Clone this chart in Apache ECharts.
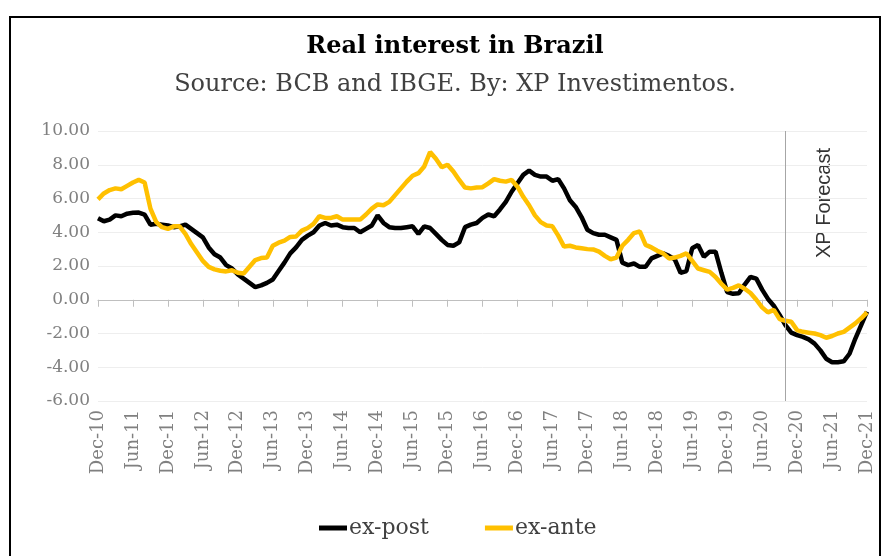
<!DOCTYPE html>
<html><head><meta charset="utf-8">
<script src="https://cdn.jsdelivr.net/npm/echarts@6/dist/echarts.min.js"></script>
<style>html,body{margin:0;padding:0;background:#fff}#c{width:886px;height:556px}</style>
</head><body><div id="c"></div>
<script>
const monthNames = ['Jan','Feb','Mar','Apr','May','Jun','Jul','Aug','Sep','Oct','Nov','Dec'];
const categories = [];
for (let i = 0; i < 133; i++) {
  const t = 11 + i;
  const yy = 10 + Math.floor(t / 12);
  categories.push(monthNames[t % 12] + '-' + String(yy).padStart(2, '0'));
}
const exPost = [
  4.83,4.65,4.75,5.00,4.95,5.10,5.15,5.17,5.05,4.45,4.50,4.45,
  4.40,4.30,4.35,4.45,4.20,3.95,3.70,3.10,2.70,2.50,2.05,1.85,
  1.50,1.25,1.00,0.75,0.85,1.00,1.20,1.70,2.20,2.75,3.10,3.55,
  3.80,4.00,4.40,4.55,4.40,4.45,4.30,4.25,4.25,4.00,4.20,4.40,
  5.00,4.55,4.30,4.25,4.25,4.30,4.35,3.90,4.35,4.25,3.90,3.55,
  3.25,3.20,3.40,4.30,4.45,4.55,4.85,5.05,4.95,5.35,5.80,6.40,
  6.90,7.40,7.65,7.40,7.30,7.30,7.05,7.15,6.60,5.90,5.50,4.90,
  4.15,3.95,3.85,3.85,3.70,3.55,2.20,2.05,2.15,1.95,1.95,2.45,
  2.60,2.75,2.60,2.40,1.60,1.70,3.05,3.25,2.55,2.85,2.85,1.60,
  0.45,0.35,0.38,0.90,1.35,1.25,0.60,0.05,-0.35,-0.90,-1.50,-1.95,
  -2.10,-2.20,-2.35,-2.60,-3.00,-3.50,-3.70,-3.70,-3.65,-3.20,-2.30,-1.50,
  -0.70
];
const exAnte = [
  5.95,6.30,6.50,6.60,6.55,6.75,6.95,7.10,6.95,5.40,4.60,4.30,
  4.20,4.35,4.35,3.90,3.30,2.80,2.30,1.95,1.80,1.72,1.68,1.75,
  1.60,1.55,1.95,2.35,2.47,2.50,3.20,3.38,3.50,3.72,3.75,4.10,
  4.25,4.50,4.95,4.85,4.85,4.95,4.75,4.75,4.75,4.75,5.05,5.40,
  5.65,5.60,5.80,6.20,6.60,7.00,7.35,7.50,7.90,8.75,8.35,7.85,
  8.00,7.60,7.10,6.65,6.60,6.65,6.67,6.90,7.15,7.05,7.00,7.10,
  6.70,6.10,5.60,5.00,4.60,4.40,4.35,3.80,3.15,3.20,3.10,3.05,
  3.00,2.98,2.85,2.60,2.40,2.50,3.20,3.55,3.95,4.05,3.25,3.10,
  2.90,2.75,2.45,2.50,2.60,2.75,2.30,1.85,1.75,1.65,1.35,0.95,
  0.60,0.70,0.85,0.65,0.40,0.00,-0.45,-0.75,-0.60,-1.15,-1.25,-1.30,
  -1.80,-1.90,-1.95,-2.00,-2.10,-2.25,-2.15,-2.00,-1.90,-1.65,-1.40,-1.10,
  -0.75
];
const forecastStart = 'Oct-20';
const yMin = -6, yMax = 10, yStep = 2;

const slab = "'DejaVu Serif'";
const chart = echarts.init(document.getElementById('c'), null, {renderer: 'canvas'});
chart.setOption({
  animation: false,
  backgroundColor: '#fff',
  graphic: [
    {type: 'rect', shape: {x: 10, y: 17, width: 870, height: 560}, style: {fill: 'none', stroke: '#000', lineWidth: 2}, silent: true},
    {type: 'text', x: 455, y: 47, style: {text: 'Real interest in Brazil', fontFamily: slab, fontWeight: 'bold', fontSize: 24, fill: '#000', align: 'center', verticalAlign: 'middle'}},
    {type: 'text', x: 455, y: 85, style: {text: 'Source: BCB and IBGE. By: XP Investimentos.', fontFamily: slab, fontSize: 24, fill: '#404040', align: 'center', verticalAlign: 'middle'}},
    {type: 'text', x: 824, y: 203, rotation: Math.PI / 2, style: {text: 'XP Forecast', fontFamily: "'Liberation Sans'", fontSize: 20, fill: '#333', align: 'center', verticalAlign: 'middle'}}
  ],
  grid: {left: 98, right: 19, top: 131, bottom: 155, containLabel: false},
  legend: {
    left: 314, top: 512,
    icon: 'rect', itemWidth: 28, itemHeight: 5, itemGap: 56,
    textStyle: {fontFamily: slab, fontSize: 22, color: '#404040', padding: [0, 0, 0, -3]},
    data: ['ex-post', 'ex-ante']
  },
  xAxis: [
    {type: 'category', data: categories, boundaryGap: false, position: 'bottom',
     axisLine: {onZero: true, lineStyle: {color: '#bfbfbf', width: 1}},
     axisTick: {show: true, interval: 5, length: 7, lineStyle: {color: '#bfbfbf'}},
     axisLabel: {show: false}, splitLine: {show: false}},
    {type: 'category', data: categories, boundaryGap: false, position: 'bottom',
     axisLine: {show: false, onZero: false}, axisTick: {show: false},
     axisLabel: {interval: 5, rotate: 90, margin: 9, fontFamily: slab, fontSize: 18, color: '#808080'},
     splitLine: {show: false}}
  ],
  yAxis: {
    type: 'value', min: yMin, max: yMax, interval: yStep,
    axisLine: {show: false}, axisTick: {show: false},
    axisLabel: {margin: 8, fontFamily: slab, fontSize: 17, color: '#808080', formatter: v => v.toFixed(2)},
    splitLine: {lineStyle: {color: '#eeeeee', width: 1}}
  },
  series: [
    {name: 'ex-post', type: 'line', data: exPost, xAxisIndex: 0, showSymbol: false, symbol: 'none',
     lineStyle: {color: '#000', width: 4.5}, itemStyle: {color: '#000'},
     markLine: {symbol: 'none', silent: true, label: {show: false},
       lineStyle: {color: '#a6a6a6', width: 1, type: 'solid'},
       data: [{xAxis: forecastStart}]}},
    {name: 'ex-ante', type: 'line', data: exAnte, xAxisIndex: 0, showSymbol: false, symbol: 'none',
     lineStyle: {color: '#FFC000', width: 4.5}, itemStyle: {color: '#FFC000'}}
  ]
});
</script></body></html>
